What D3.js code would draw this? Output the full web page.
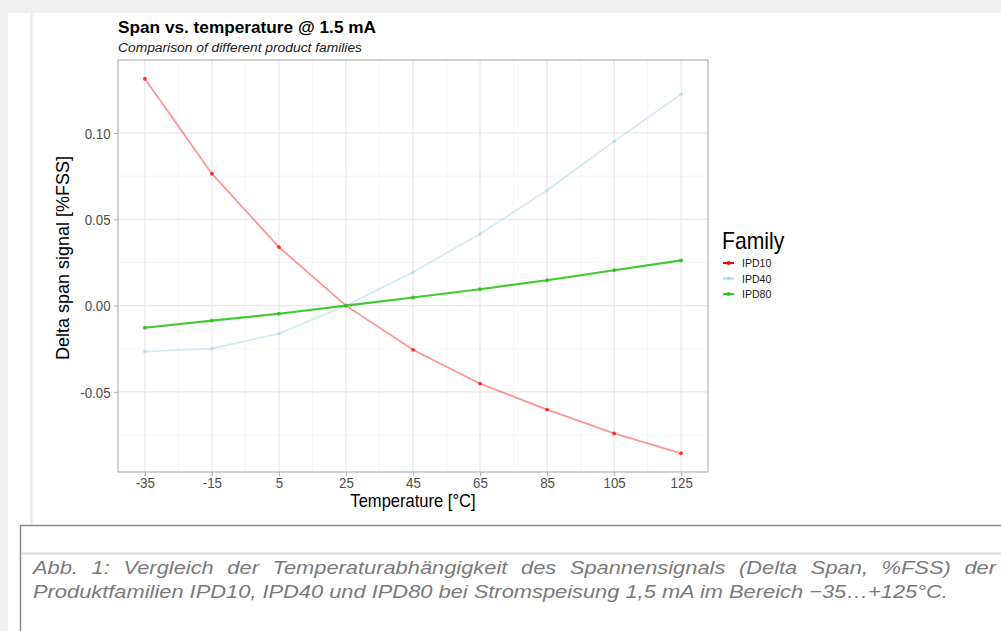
<!DOCTYPE html>
<html>
<head>
<meta charset="utf-8">
<script src="https://cdn.jsdelivr.net/npm/d3@7"></script>
<style>
  html, body { margin: 0; padding: 0; background: #f0f0f0; }
  svg { display: block; font-family: "Liberation Sans", Arial, sans-serif; }
</style>
</head>
<body>
<div id="chart"></div>
<script>
// Data
const temperatures = [-35, -15, 5, 25, 45, 65, 85, 105, 125];
const families = ["IPD10", "IPD40", "IPD80"];
const ipd10 = [0.1314, 0.0764, 0.0339, 0, -0.0256, -0.0452, -0.0602, -0.074, -0.0855];
const ipd40 = [-0.0266, -0.0249, -0.0162, 0, 0.0194, 0.0415, 0.0668, 0.0951, 0.1225];
const ipd80 = [-0.0128, -0.0087, -0.0047, 0, 0.0047, 0.0095, 0.0147, 0.0205, 0.0262];
const xTicks = [-35, -15, 5, 25, 45, 65, 85, 105, 125];
const yTicks = [-0.05, 0, 0.05, 0.10];
const captionLines = [
  "Abb. 1: Vergleich der Temperaturabhängigkeit des Spannensignals (Delta Span, %FSS) der",
  "Produktfamilien IPD10, IPD40 und IPD80 bei Stromspeisung 1,5 mA im Bereich −35…+125°C."
];

const series = [
  { name: families[0], values: ipd10, color: "#ff0000", lineOpacity: 0.42, pointOpacity: 0.75, width: 1.8 },
  { name: families[1], values: ipd40, color: "#add8e6", lineOpacity: 0.55, pointOpacity: 0.7, width: 1.7 },
  { name: families[2], values: ipd80, color: "#2ec41c", lineOpacity: 0.9, pointOpacity: 0.9, width: 2.2 },
];

// the picture is slightly squeezed sideways, so is the text
const squeeze = 0.92;

// Dimensions
const dimensions = {
  width: 1001,
  height: 631,
  panel: { left: 118, right: 708, top: 60, bottom: 472 },
};

const svg = d3
  .select("#chart")
  .append("svg")
  .attr("width", dimensions.width)
  .attr("height", dimensions.height);

// Page background
svg.append("rect").attr("width", 1001).attr("height", 631).attr("fill", "#f0f0f0");
svg.append("rect").attr("x", 8).attr("y", 13).attr("width", 993).attr("height", 618).attr("fill", "#ffffff");
svg.append("line")
  .attr("x1", 31.5).attr("x2", 31.5).attr("y1", 13).attr("y2", 524)
  .attr("stroke", "#ececec").attr("stroke-width", 2.5);

// Scales (ggplot style 5% expansion)
const xPad = (d3.max(temperatures) - d3.min(temperatures)) * 0.05;
const allValues = ipd10.concat(ipd40, ipd80);
const yPad = (d3.max(allValues) - d3.min(allValues)) * 0.05;

const xScale = d3
  .scaleLinear()
  .domain([d3.min(temperatures) - xPad, d3.max(temperatures) + xPad])
  .range([dimensions.panel.left, dimensions.panel.right]);

const yScale = d3
  .scaleLinear()
  .domain([d3.min(allValues) - yPad, d3.max(allValues) + yPad])
  .range([dimensions.panel.bottom, dimensions.panel.top]);

const ctr = svg.append("g");

// Grid
const minorX = xTicks.slice(1).map((t, i) => (t + xTicks[i]) / 2);
const minorY = yTicks.slice(1).map((t, i) => (t + yTicks[i]) / 2);
minorY.unshift(yTicks[0] - 0.025);

ctr.append("g")
  .selectAll("line")
  .data(minorX)
  .join("line")
  .attr("x1", (d) => xScale(d)).attr("x2", (d) => xScale(d))
  .attr("y1", dimensions.panel.top).attr("y2", dimensions.panel.bottom)
  .attr("stroke", "#f2f2f2").attr("stroke-width", 0.8);

ctr.append("g")
  .selectAll("line")
  .data(minorY.filter((d) => yScale(d) < dimensions.panel.bottom))
  .join("line")
  .attr("x1", dimensions.panel.left).attr("x2", dimensions.panel.right)
  .attr("y1", (d) => yScale(d)).attr("y2", (d) => yScale(d))
  .attr("stroke", "#f2f2f2").attr("stroke-width", 0.8);

ctr.append("g")
  .selectAll("line")
  .data(xTicks)
  .join("line")
  .attr("x1", (d) => xScale(d)).attr("x2", (d) => xScale(d))
  .attr("y1", dimensions.panel.top).attr("y2", dimensions.panel.bottom)
  .attr("stroke", "#e8e8e8").attr("stroke-width", 1.2);

ctr.append("g")
  .selectAll("line")
  .data(yTicks)
  .join("line")
  .attr("x1", dimensions.panel.left).attr("x2", dimensions.panel.right)
  .attr("y1", (d) => yScale(d)).attr("y2", (d) => yScale(d))
  .attr("stroke", "#e8e8e8").attr("stroke-width", 1.2);

// Axes (plain hyphen minus like the original)
const hyphen = (f) => (d) => f(d).replace("−", "-");
const xAxis = d3.axisBottom(xScale).tickValues(xTicks).tickSize(4).tickPadding(2).tickFormat(hyphen(d3.format("d")));
const yAxis = d3.axisLeft(yScale).tickValues(yTicks).tickSize(4).tickPadding(4).tickFormat(hyphen(d3.format(".2f")));

const xAxisGroup = ctr.append("g")
  .attr("transform", `translate(0, ${dimensions.panel.bottom})`)
  .call(xAxis);
const yAxisGroup = ctr.append("g")
  .attr("transform", `translate(${dimensions.panel.left}, 0)`)
  .call(yAxis);

[xAxisGroup, yAxisGroup].forEach((g) => {
  g.select(".domain").remove();
  g.selectAll(".tick line").attr("stroke", "#b3b3b3").attr("stroke-width", 1.1);
  g.selectAll(".tick text")
    .attr("fill", "#4d4d4d")
    .attr("transform", `scale(${squeeze},1)`)
    .style("font-size", "14.5px")
    .style("font-family", "Liberation Sans, Arial, sans-serif");
});
yAxisGroup.selectAll(".tick text").attr("dy", "0.35em");

// Panel border
ctr.append("rect")
  .attr("x", dimensions.panel.left).attr("y", dimensions.panel.top)
  .attr("width", dimensions.panel.right - dimensions.panel.left)
  .attr("height", dimensions.panel.bottom - dimensions.panel.top)
  .attr("fill", "none").attr("stroke", "#b3b3b3").attr("stroke-width", 1.2);

// Lines and points
const line = d3
  .line()
  .x((d, i) => xScale(temperatures[i]))
  .y((d) => yScale(d));

series.forEach((s) => {
  ctr.append("path")
    .datum(s.values)
    .attr("d", line)
    .attr("fill", "none")
    .attr("stroke", s.color)
    .attr("stroke-opacity", s.lineOpacity)
    .attr("stroke-width", s.width);

  ctr.append("g")
    .selectAll("circle")
    .data(s.values)
    .join("circle")
    .attr("cx", (d, i) => xScale(temperatures[i]))
    .attr("cy", (d) => yScale(d))
    .attr("r", 1.9)
    .attr("fill", s.color)
    .attr("fill-opacity", s.pointOpacity);
});

// helper: squeezed horizontal text anchored at x, y
function squeezed(parent, x, y) {
  return parent.append("text")
    .attr("transform", `translate(${x}, ${y}) scale(${squeeze},1)`);
}

// Titles
svg.append("text")
  .attr("x", 118).attr("y", 33)
  .attr("textLength", 258).attr("lengthAdjust", "spacingAndGlyphs")
  .style("font-size", "16.5px").style("font-weight", "bold")
  .attr("fill", "#000")
  .text("Span vs. temperature @ 1.5 mA");

svg.append("text")
  .attr("x", 118).attr("y", 52)
  .attr("textLength", 244).attr("lengthAdjust", "spacingAndGlyphs")
  .style("font-size", "12.5px").style("font-style", "italic")
  .attr("fill", "#1a1a1a")
  .text("Comparison of different product families");

squeezed(svg, (dimensions.panel.left + dimensions.panel.right) / 2, 507)
  .attr("text-anchor", "middle")
  .style("font-size", "18px")
  .attr("fill", "#000")
  .text("Temperature [°C]");

svg.append("text")
  .attr("transform", `translate(69, ${(dimensions.panel.top + dimensions.panel.bottom) / 2 - 8}) rotate(-90)`)
  .attr("text-anchor", "middle")
  .style("font-size", "18px")
  .attr("fill", "#000")
  .text("Delta span signal [%FSS]");

// Legend
const legend = svg.append("g").attr("transform", "translate(722, 0)");
squeezed(legend, 0, 249)
  .style("font-size", "23px")
  .attr("fill", "#000")
  .text("Family");

const legendRows = legend.selectAll(".row")
  .data(series)
  .join("g")
  .attr("class", "row")
  .attr("transform", (d, i) => `translate(0, ${263 + i * 15.5})`);

legendRows.append("line")
  .attr("x1", 1).attr("x2", 12)
  .attr("stroke", (d) => d.color).attr("stroke-width", 2);
legendRows.append("circle")
  .attr("cx", 6.5).attr("r", 2)
  .attr("fill", (d) => d.color);
legendRows.append("text")
  .attr("transform", `translate(20, 4) scale(${squeeze},1)`)
  .style("font-size", "11.5px")
  .attr("fill", "#1a1a1a")
  .text((d) => d.name);

// Caption box
const caption = svg.append("g");
caption.append("line")
  .attr("x1", 21).attr("x2", 1001).attr("y1", 553.5).attr("y2", 553.5)
  .attr("stroke", "#e2e2e2").attr("stroke-width", 2.5);
caption.append("path")
  .attr("d", "M20.5,631 V525.5 H1001")
  .attr("fill", "none").attr("stroke", "#8a8a8a").attr("stroke-width", 1.5);

const capTexts = caption.selectAll("text.cap")
  .data(captionLines)
  .join("text")
  .attr("class", "cap")
  .style("font-size", "19px").style("font-style", "italic")
  .attr("fill", "#7a7a7a")
  .text((d) => d);

// second line sets the squeeze, first line is justified through word spacing
const capWidths = [963, 915];
const nat2 = capTexts.nodes()[1].getComputedTextLength();
const capSqueeze = capWidths[1] / nat2;
capTexts.each(function (d, i) {
  const el = d3.select(this);
  el.attr("transform", `translate(33, ${574 + i * 23.5}) scale(${capSqueeze},1)`);
  if (i === 0) {
    const nat = this.getComputedTextLength();
    const gaps = d.split(" ").length - 1;
    el.style("word-spacing", `${(capWidths[0] / capSqueeze - nat) / gaps}px`);
  }
});
</script>
</body>
</html>
